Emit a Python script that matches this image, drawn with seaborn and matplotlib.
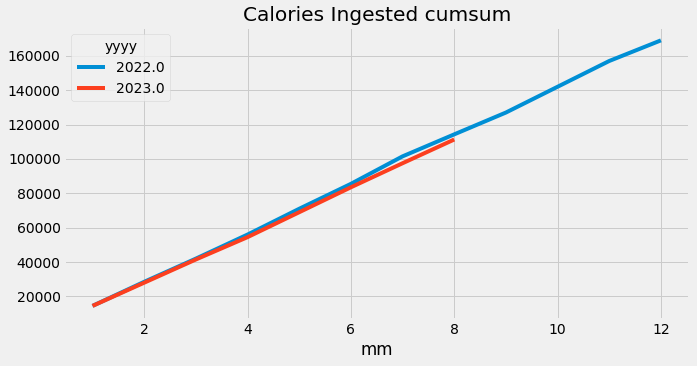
import numpy as np
import pandas as pd
import matplotlib
matplotlib.use("Agg")
import matplotlib.pyplot as plt
import seaborn as sns

# monthly cumulative calories
months_2022 = [1, 2, 3, 4, 5, 6, 7, 8, 9, 10, 11, 12]
cumsum_2022 = [14500, 28500, 42000, 56000, 71000, 85500, 101500, 114300,
               127000, 142000, 157000, 169000]
months_2023 = [1, 2, 3, 4, 5, 6, 7, 8]
cumsum_2023 = [14500, 28000, 41500, 54500, 69000, 83500, 97500, 111300]
years = ["2022.0", "2023.0"]


def build_frame() -> pd.DataFrame:
    df_a = pd.DataFrame({"mm": months_2022, "cal": cumsum_2022, "yyyy": years[0]})
    df_b = pd.DataFrame({"mm": months_2023, "cal": cumsum_2023, "yyyy": years[1]})
    return pd.concat([df_a, df_b], ignore_index=True)


if __name__ == "__main__":
    plt.style.use("fivethirtyeight")
    df = build_frame()

    fig, ax = plt.subplots(figsize=(697 / 72, 366 / 72), dpi=72)
    sns.lineplot(data=df, x="mm", y="cal", hue="yyyy", hue_order=years,
                 palette=["#008fd5", "#fc3f1f"], linewidth=4, ax=ax)
    ax.set_title("Calories Ingested cumsum")
    ax.set_xlabel("mm")
    ax.set_ylabel("")
    ax.legend(title="yyyy", loc="upper left")
    fig.subplots_adjust(left=0.092, right=0.989, top=0.926, bottom=0.128)
    fig.savefig("out.png", dpi=72)
